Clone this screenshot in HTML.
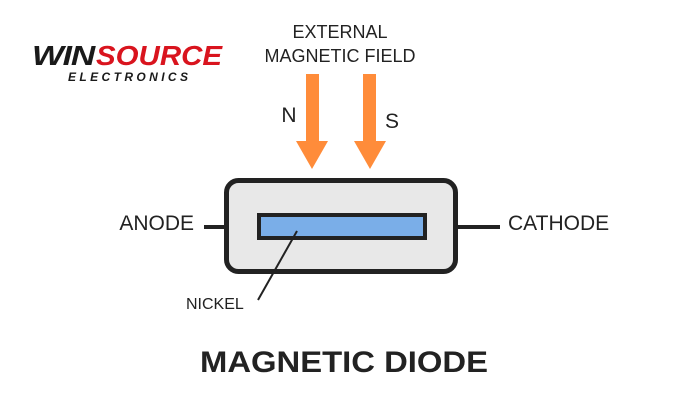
<!DOCTYPE html>
<html><head><style>
body{margin:0;width:700px;height:400px;background:#fff;overflow:hidden}
svg{display:block}
text{font-family:"Liberation Sans",sans-serif;fill:#222}
</style></head><body>
<svg width="700" height="400" viewBox="0 0 700 400">
<text x="32" y="65" font-size="28" font-weight="bold" font-style="italic" style="fill:#1a1a1a" letter-spacing="-1" textLength="62" lengthAdjust="spacingAndGlyphs">WIN</text>
<text x="96" y="65" font-size="28" font-weight="bold" font-style="italic" style="fill:#d9141e" textLength="126" lengthAdjust="spacingAndGlyphs">SOURCE</text>
<text x="68" y="81" font-size="12" font-weight="bold" font-style="italic" style="fill:#1a1a1a" textLength="120" lengthAdjust="spacing">ELECTRONICS</text>
<text x="340" y="38" font-size="18" text-anchor="middle">EXTERNAL</text>
<text x="340" y="62" font-size="18" text-anchor="middle">MAGNETIC FIELD</text>
<text x="289" y="122" font-size="21" text-anchor="middle">N</text>
<text x="392" y="128" font-size="21" text-anchor="middle">S</text>
<polygon points="306,74 319,74 319,141 328,141 312,169 296,141 306,141" fill="#ff8c3a"/>
<polygon points="363,74 376,74 376,141 386,141 370,169 354,141 363,141" fill="#ff8c3a"/>
<line x1="204" y1="227" x2="226" y2="227" stroke="#222" stroke-width="4"/>
<line x1="456" y1="227" x2="500" y2="227" stroke="#222" stroke-width="4"/>
<rect x="226.5" y="180.5" width="229" height="91" rx="12" fill="#e8e8e8" stroke="#222" stroke-width="5"/>
<rect x="259" y="215" width="166" height="23" fill="#7aaee8" stroke="#222" stroke-width="4"/>
<line x1="297" y1="231" x2="258" y2="300" stroke="#222" stroke-width="2"/>
<text x="194" y="230" font-size="21" text-anchor="end">ANODE</text>
<text x="508" y="230" font-size="21">CATHODE</text>
<text x="186" y="309" font-size="16">NICKEL</text>
<text x="344" y="372" font-size="30" font-weight="bold" text-anchor="middle" textLength="288" lengthAdjust="spacingAndGlyphs">MAGNETIC DIODE</text>
</svg>
</body></html>
